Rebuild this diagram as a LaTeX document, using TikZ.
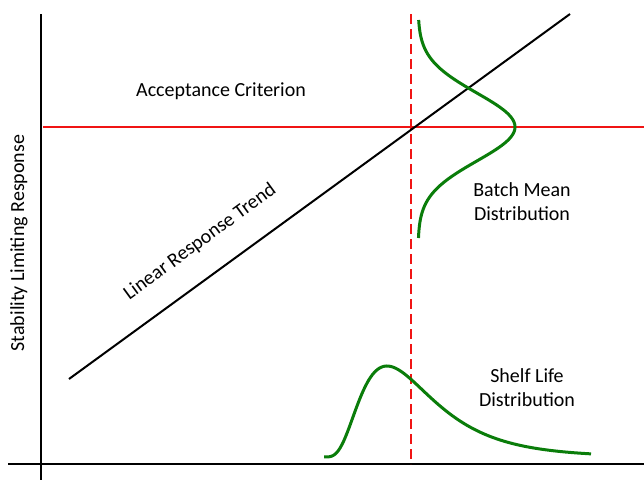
\documentclass[tikz,border=0pt]{standalone}
\usepackage{fontspec}
\setmainfont{Carlito}
\usetikzlibrary{positioning, calc}
\definecolor{distgreen}{RGB}{10,125,10}
\definecolor{limitred}{RGB}{240,20,20}

\begin{document}
\begin{tikzpicture}[x=1pt, y=-1pt,
    axisline/.style={black, line width=2.8pt},
    limitline/.style={limitred, line width=1.8pt},
    distcurve/.style={distgreen, line width=3pt},
    lbl/.style={font=\fontsize{20}{24}\selectfont, align=center, inner sep=0pt}]
      \useasboundingbox (0, 0) rectangle (644, 480);

      % axes
      \draw[axisline] (41, 14) -- (41, 480);
      \draw[axisline] (8, 464) -- (644, 464);
      \node[lbl, rotate=90] (ylab) at (19, 243) {Stability Limiting Response};

      % acceptance limit and its crossing with the trend
      \draw[limitline] (43, 127) -- (644, 127);
      \draw[limitline, dash pattern=on 10pt off 5pt] (411, 14) -- (411, 464);
      \node[lbl] (accept) at (221, 91) {Acceptance Criterion};

      % linear trend
      \coordinate (tstart) at (69, 379);
      \coordinate (tend) at (570, 14);
      \draw[black, line width=2pt] (tstart) -- (tend);
      \node[lbl, rotate=36.1] (trend) at (200, 242) {Linear Response Trend};

      % batch mean distribution (sideways)
      \draw[distcurve, domain=20:238, samples=121] plot ({418+97*exp(-((\x-127)^2)/2312)}, \x);
      \node[lbl] (batch) at (522, 202) {Batch Mean\\Distribution};

      % shelf life distribution (skewed)
      \draw[distcurve, domain=324:591, samples=150, smooth]
        plot (\x, {457-91*(69/(\x-318))*exp(-((ln(\x-318)-4.515)^2-0.0789)/0.562)});
      \node[lbl] (shelf) at (527, 388) {Shelf Life\\Distribution};

    \end{tikzpicture}
\end{document}
